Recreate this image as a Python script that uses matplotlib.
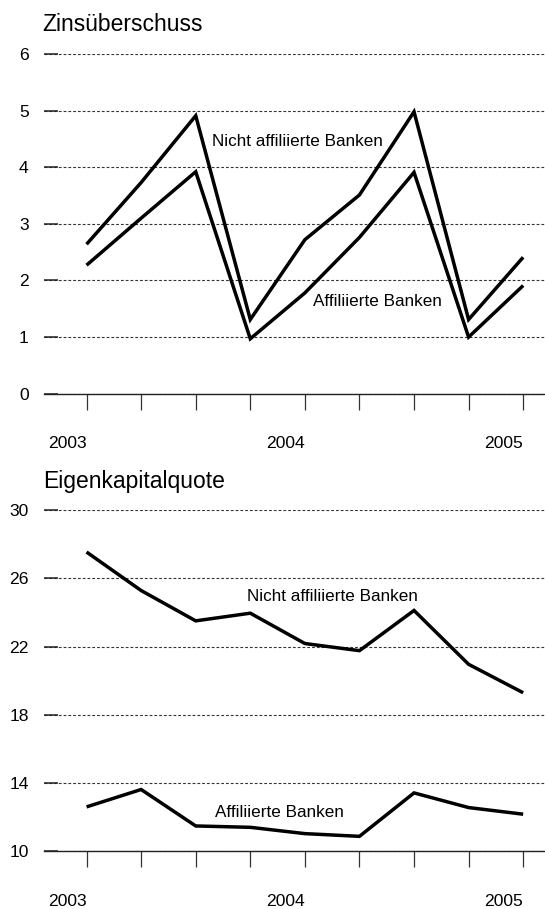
"""
Zinsüberschuss und Eigenkapitalquote: affiliierte vs. nicht affiliierte Banken.
"""

import matplotlib
matplotlib.use("Agg")
import matplotlib.pyplot as plt

plt.rcParams["font.family"] = ["Liberation Sans", "DejaVu Sans"]

quartale = list(range(9))
jahr_labels = ["2003", "2004", "2005"]
jahr_pos = [0, 4, 8]

zins_nicht_aff = [2.64, 3.73, 4.91, 1.31, 2.72, 3.51, 4.98, 1.31, 2.41]
zins_aff = [2.27, 3.10, 3.92, 0.97, 1.78, 2.76, 3.91, 1.00, 1.91]

ek_nicht_aff = [27.55, 25.29, 23.51, 23.96, 22.18, 21.76, 24.12, 20.96, 19.29]
ek_aff = [12.59, 13.61, 11.47, 11.39, 11.02, 10.86, 13.41, 12.55, 12.16]

W, H = 545, 909
fig = plt.figure(figsize=(W / 100, H / 100), dpi=100)


def panel(rect, titel, titel_y, y_nicht, y_aff, yticks, ylim, lab_nicht, lab_aff):
    ax = fig.add_axes(rect)
    ax.plot(quartale, y_nicht, color="black", lw=2.5, solid_joinstyle="miter",
            solid_capstyle="butt")
    ax.plot(quartale, y_aff, color="black", lw=2.5, solid_joinstyle="miter",
            solid_capstyle="butt")
    ax.set_xlim(-0.78, 8.40)
    ax.set_ylim(*ylim)
    ax.set_yticks(yticks)
    ax.set_yticklabels([str(t) for t in yticks])
    ax.set_xticks(quartale)
    ax.set_xticklabels([])
    for t in yticks:
        ax.axhline(t, color="#333333", lw=0.8, ls=(0, (2.5, 1.8)), zorder=0)
    for s in ["top", "right", "left"]:
        ax.spines[s].set_visible(False)
    ax.spines["bottom"].set_color("#222222")
    ax.spines["bottom"].set_linewidth(1.0)
    ax.tick_params(axis="y", direction="in", length=10, width=1.1,
                   color="#222222", pad=11, labelsize=12.6)
    ax.tick_params(axis="x", direction="out", length=11.5, width=0.9,
                   color="#333333")
    for lab, pos in zip(jahr_labels, jahr_pos):
        ax.annotate(lab, xy=(pos, 0), xycoords=("data", "axes fraction"),
                    xytext=(0, -36), textcoords="offset points",
                    ha="right", va="center", fontsize=12.6)
    ax.text(lab_nicht[0], lab_nicht[1], "Nicht affiliierte Banken",
            fontsize=12.3, ha="left", va="baseline")
    ax.text(lab_aff[0], lab_aff[1], "Affiliierte Banken",
            fontsize=12.3, ha="left", va="baseline")
    fig.text(42.7 / W, 1 - titel_y / H, titel, fontsize=16.5,
             ha="left", va="baseline")
    return ax


ax1 = panel([44 / W, 1 - 393.7 / H, 1 - 44 / W, (393.7 - 54) / H],
            "Zinsüberschuss", 30.7, zins_nicht_aff, zins_aff,
            [0, 1, 2, 3, 4, 5, 6], (0, 6), (2.29, 4.38), (4.15, 1.55))
ax2 = panel([44 / W, 1 - 851 / H, 1 - 44 / W, (851 - 510.3) / H],
            "Eigenkapitalquote", 488.3, ek_nicht_aff, ek_aff,
            [10, 14, 18, 22, 26, 30], (10, 30), (2.94, 24.7), (2.35, 12.0))

fig.savefig("out.png", dpi=100)
